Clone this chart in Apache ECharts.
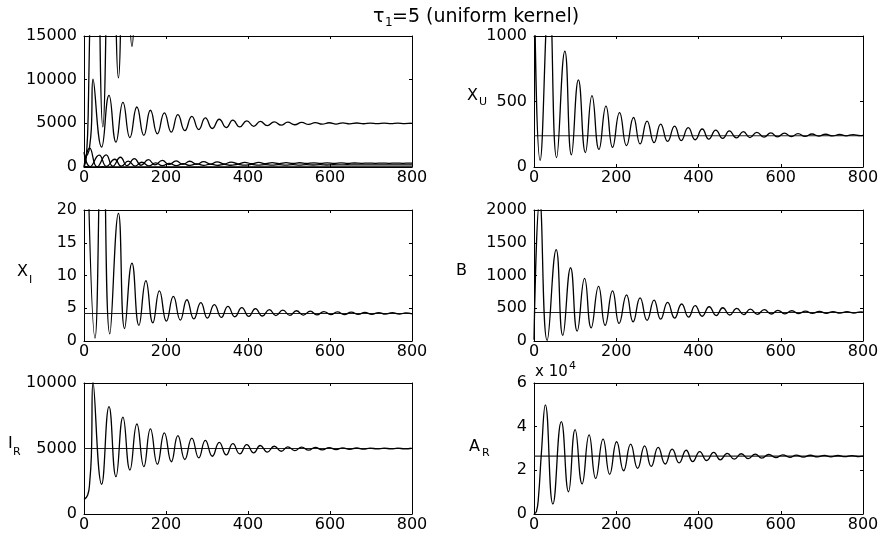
<!DOCTYPE html>
<html><head><meta charset="utf-8">
<script src="https://cdn.jsdelivr.net/npm/echarts@6/dist/echarts.min.js"></script>
<style>html,body{margin:0;padding:0;background:#fff}#c{width:882px;height:539px}</style>
</head><body><div id="c"></div>
<script>
// ---- data: [time, value] at start points and at each peak / trough ----
const xTicks = [0, 200, 400, 600, 800];

const AR = [[0,0],[6,1200],[11,8000],[18,28000],[27.6,50000],[46,4600],[66.5,42300],[84,10200],[100,38600],[117,13800],[134,36200],[150,16300],[168,34300],[184,18200],[201,33100],[218,19800],[235,32000],[252,20900],[269,31200],[285,21800],[302,30500],[319,22900],[336,29700],[353,23400],[370,29200],[386,24000],[403,28600],[420,24500],[437,28200],[453,24800],[470,27800],[487,25100],[504,27600],[521,25400],[538,27400],[554,25600],[571,27250],[588,25800],[605,27100],[622,25950],[638,27000],[655,26050],[672,26900],[689,26150],[706,26850],[722,26200],[739,26800],[756,26250],[773,26750],[790,26300],[800,26500]];

const IR = [[0,1100],[9,1450],[14,2450],[18,4500],[22,10050],[43,2270],[61,8200],[78,2850],[95,7400],[112,3360],[129,6870],[146,3620],[162,6500],[179,3800],[196,6200],[213,3990],[229,5990],[246,4160],[263,5790],[280,4290],[296,5620],[313,4410],[330,5470],[347,4510],[363,5370],[380,4590],[397,5290],[414,4660],[430,5230],[447,4730],[464,5170],[481,4790],[497,5130],[514,4840],[531,5100],[548,4870],[564,5080],[581,4900],[598,5065],[615,4920],[631,5050],[648,4940],[665,5040],[682,4955],[698,5035],[715,4965],[732,5030],[749,4970],[765,5025],[782,4975],[799,5020]];

const B = [[0,20],[14,2150],[32,10],[54,1395],[70,85],[89,1118],[105,150],[123,955],[139,200],[157,835],[173,240],[191,765],[207,268],[225,703],[241,292],[258,658],[275,315],[292,625],[308,333],[325,590],[342,350],[359,565],[376,365],[392,540],[409,378],[426,523],[443,388],[459,508],[476,397],[493,497],[510,403],[526,487],[543,408],[560,478],[577,412],[593,468],[610,415],[627,462],[644,418],[660,457],[677,421],[694,453],[711,423],[727,450],[744,425],[761,448],[778,426],[794,446],[800,440]];

const XU = [[0,1700],[15,50],[37,1350],[55,72],[75,885],[91,92],[108,665],[125,110],[141,545],[158,134],[175,465],[191,150],[208,415],[225,163],[242,378],[258,176],[275,350],[292,186],[308,328],[325,195],[342,312],[358,202],[375,300],[392,208],[409,290],[425,213],[442,282],[459,218],[475,276],[492,222],[509,270],[525,225],[542,265],[559,228],[576,261],[592,230],[609,258],[626,232],[642,255],[659,234],[676,252],[692,236],[709,250],[726,237],[743,248],[759,238],[776,247],[793,239],[800,241]];

const XI = [[0,60],[27,0.45],[45,40],[63,1.1],[84,19.5],[99,1.9],[117,11.9],[134,2.4],[151,9.2],[168,2.78],[184,7.65],[201,3.04],[218,6.8],[235,3.2],[251,6.3],[268,3.38],[285,5.85],[301,3.5],[318,5.55],[335,3.6],[351,5.3],[368,3.7],[385,5.1],[402,3.76],[418,4.95],[435,3.82],[452,4.8],[468,3.88],[485,4.7],[502,3.92],[518,4.62],[535,3.96],[552,4.55],[568,3.99],[585,4.5],[602,4.02],[618,4.45],[635,4.04],[652,4.4],[669,4.06],[685,4.37],[702,4.08],[719,4.34],[735,4.09],[752,4.32],[769,4.1],[785,4.3],[800,4.15]];

// equilibrium levels (horizontal reference lines)
const eqXU = 238, eqXI = 4.2, eqB = 436, eqIR = 5000, eqAR = 26500;

// y-axis ranges / tick spacing per panel
const yMax = [15000, 1000, 20, 2000, 10000, 60000];
const yStep = [5000, 500, 5, 500, 5000, 20000];

// ---- layout ----
const colLeft = [84, 534], colWidth = [328, 329];
const rowTop = [36, 210, 383], rowHeight = 131;
const FONT = 'DejaVu Sans';

const panels = [
  {series: [AR, IR, B, XU, XI], eq: null},
  {series: [XU], eq: eqXU},
  {series: [XI], eq: eqXI},
  {series: [B], eq: eqB},
  {series: [IR], eq: eqIR},
  {series: [AR], eq: eqAR, fmt: v => String(v / 10000)}
];

const grid = [], xAxis = [], yAxis = [], series = [];
panels.forEach((p, i) => {
  const r = Math.floor(i / 2), c = i % 2;
  grid.push({left: colLeft[c], top: rowTop[r], width: colWidth[c], height: rowHeight, containLabel: false});
  const axLine = {show: true, onZero: false, lineStyle: {color: '#000', width: 1}};
  const tick = {show: true, inside: true, length: 3, lineStyle: {color: '#000', width: 1}};
  xAxis.push({type: 'value', gridIndex: i, min: xTicks[0], max: xTicks[xTicks.length - 1], interval: xTicks[1] - xTicks[0],
    position: 'bottom', axisLine: axLine, axisTick: tick, splitLine: {show: false},
    axisLabel: {color: '#000', fontFamily: FONT, fontSize: 16, margin: 3}});
  xAxis.push({type: 'value', gridIndex: i, min: xTicks[0], max: xTicks[xTicks.length - 1], interval: xTicks[1] - xTicks[0],
    position: 'top', axisLine: axLine, axisTick: tick, splitLine: {show: false}, axisLabel: {show: false}});
  yAxis.push({type: 'value', gridIndex: i, min: 0, max: yMax[i], interval: yStep[i], position: 'left',
    axisLine: axLine, axisTick: tick, splitLine: {show: false},
    axisLabel: {color: '#000', fontFamily: FONT, fontSize: 16, margin: 7, formatter: p.fmt || (v => String(v))}});
  yAxis.push({type: 'value', gridIndex: i, min: 0, max: yMax[i], interval: yStep[i], position: 'right',
    axisLine: axLine, axisTick: tick, splitLine: {show: false}, axisLabel: {show: false}});
  if (p.eq !== null) {
    series.push({type: 'line', xAxisIndex: 2 * i, yAxisIndex: 2 * i, data: [[xTicks[0], p.eq], [xTicks[xTicks.length - 1], p.eq]],
      symbol: 'none', silent: true, lineStyle: {color: '#222', width: 1.1}, z: 1});
  }
  p.series.forEach(d => {
    series.push({type: 'line', xAxisIndex: 2 * i, yAxisIndex: 2 * i, data: d, smooth: 0.5,
      symbol: 'none', clip: true, silent: true, lineStyle: {color: '#000', width: 1.3}, z: 2});
  });
});

function txt(s, x, y, size) {
  return {type: 'text', x: x, y: y, silent: true,
    style: {text: s, font: size + 'px "' + FONT + '"', fill: '#000',
      align: 'left', textAlign: 'left', verticalAlign: 'middle', textVerticalAlign: 'middle'}};
}

const graphic = [
  // title
  txt('\u03c4', 373, 17, 19), txt('1', 385, 23, 12), txt('=5 (uniform kernel)', 392, 17, 19),
  // y labels
  txt('X', 467, 96, 16), txt('U', 479, 102, 11),
  txt('X', 17, 272, 16), txt('I', 29, 280, 11),
  txt('B', 456, 271, 16),
  txt('I', 8, 444, 16), txt('R', 13, 452, 11),
  txt('A', 469, 447, 16), txt('R', 482, 453, 11),
  // exponent
  txt('x 10', 535, 372, 15), txt('4', 569, 366, 11)
];

const chart = echarts.init(document.getElementById('c'), null, {renderer: 'canvas'});
chart.setOption({animation: false, backgroundColor: '#fff', textStyle: {fontFamily: FONT},
  grid, xAxis, yAxis, series, graphic});
</script></body></html>
